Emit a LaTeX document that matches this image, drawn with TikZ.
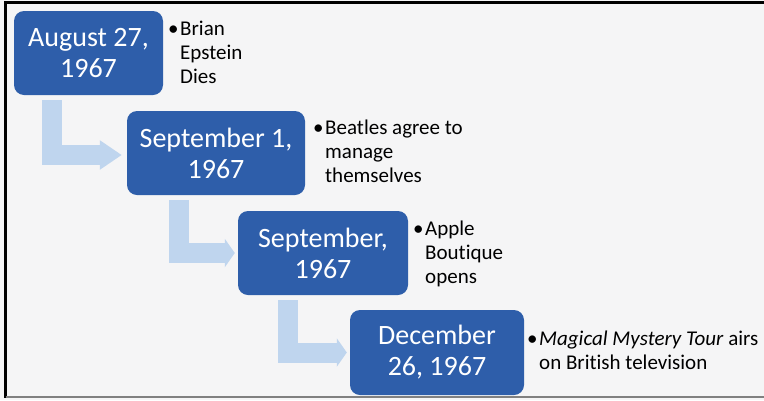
\documentclass[tikz,border=0pt]{standalone}
\usepackage{fontspec}
\setmainfont{Carlito}[Ligatures={NoCommon,NoRare}]
\usetikzlibrary{arrows.meta}
\definecolor{boxblue}{HTML}{2E5EAA}
\definecolor{arrblue}{HTML}{BFD5EE}
\definecolor{paper}{HTML}{F5F5F6}
\newcommand{\bul}{\llap{•\kern1.5pt}}
\begin{document}
\begin{tikzpicture}[x=1pt,y=-1pt,
  datebox/.style={fill=boxblue, text=white, rounded corners=10pt, inner sep=0pt,
    align=center, font=\fontsize{28}{31}\selectfont},
  note/.style={anchor=north west, inner sep=0pt, align=left,
    font=\fontsize{21}{24}\selectfont, text=black},
  bendarrow/.style={draw=arrblue, line width=20pt, line join=miter}]
\useasboundingbox (0,0) rectangle (764,400);
\fill[paper] (0,0) rectangle (764,400);
\draw[line width=3pt] (764,2.5) -- (5.5,2.5) -- (5.5,398);
\draw[gray, line width=2pt] (5.5,397) -- (764,397);

\node[datebox, minimum width=149pt, minimum height=84pt] (b1) at (88.5,53) {August 27,\\1967};
\node[datebox, minimum width=178pt, minimum height=84pt] (b2) at (216,153) {September 1,\\1967};
\node[datebox, minimum width=170pt, minimum height=84pt] (b3) at (323,253) {September,\\1967};
\node[datebox, minimum width=174pt, minimum height=85pt] (b4) at (437,352.5) {December\\26, 1967};

\draw[bendarrow, -{Triangle[length=22pt,width=28pt]}] ([xshift=38pt,yshift=-5pt]b1.south west) |- ([xshift=-5pt,yshift=-2pt]b2.west);
\draw[bendarrow, -{Triangle[length=10pt,width=28pt]}] ([xshift=52pt,yshift=-5pt]b2.south west) |- ([xshift=-3pt]b3.west);
\draw[bendarrow, -{Triangle[length=10pt,width=28pt]}] ([xshift=50pt,yshift=-5pt]b3.south west) |- ([xshift=-3pt]b4.west);

\node[note] (t1) at (180,18) {\strut\bul Brian\\Epstein\\Dies};
\node[note] (t2) at (325,117) {\strut\bul Beatles agree to\\manage\\themselves};
\node[note] (t3) at (425,218) {\strut\bul Apple\\Boutique\\opens};
\node[note] (t4) at (539,328) {\strut\bul\textit{Magical Mystery Tour} airs\\on British television};
\end{tikzpicture}
\end{document}
